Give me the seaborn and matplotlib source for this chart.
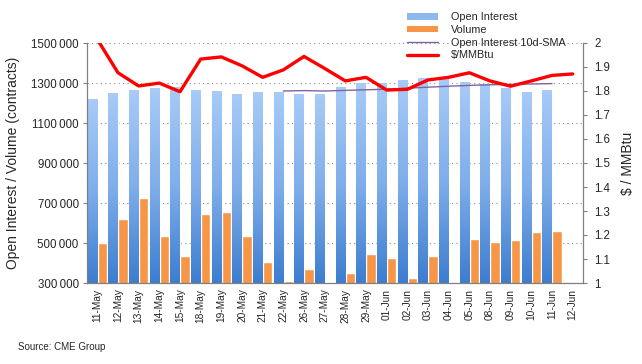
import numpy as np
import pandas as pd
import seaborn as sns
import matplotlib.pyplot as plt
from matplotlib.patches import Patch
from matplotlib.lines import Line2D
from matplotlib.colors import LinearSegmentedColormap
from matplotlib.ticker import FixedLocator, FuncFormatter, MultipleLocator

# data
dates = ["11-May", "12-May", "13-May", "14-May", "15-May", "18-May", "19-May",
         "20-May", "21-May", "22-May", "26-May", "27-May", "28-May", "29-May",
         "01-Jun", "02-Jun", "03-Jun", "04-Jun", "05-Jun", "08-Jun", "09-Jun",
         "10-Jun", "11-Jun", "12-Jun"]
open_interest = [1220000, 1250000, 1265000, 1275000, 1278000, 1265000, 1260000,
                 1245000, 1255000, 1255000, 1245000, 1245000, 1282000, 1298000,
                 1300000, 1315000, 1325000, 1320000, 1305000, 1295000, 1275000,
                 1255000, 1265000, np.nan]
volume = [500000, 620000, 725000, 535000, 435000, 645000, 655000,
          535000, 405000, 310000, 370000, 305000, 350000, 445000,
          425000, 325000, 435000, np.nan, 520000, 505000, 515000,
          555000, 560000, np.nan]
oi_sma = [np.nan, np.nan, np.nan, np.nan, np.nan, np.nan, np.nan,
          np.nan, np.nan, 1260000, 1262000, 1260000, 1263000, 1266000,
          1269000, 1274000, 1279000, 1284000, 1288000, 1291000, 1293000,
          1295000, 1297000, np.nan]
price = [2.015, 1.876, 1.821, 1.833, 1.797, 1.933, 1.942,
         1.905, 1.857, 1.888, 1.944, 1.894, 1.842, 1.857,
         1.804, 1.807, 1.846, 1.857, 1.876, 1.842, 1.820,
         1.842, 1.865, 1.871]
left_ticks = [300000, 500000, 700000, 900000, 1100000, 1300000, 1500000]

sns.set_style("white")
plt.rcParams["font.family"] = ["Liberation Sans", "DejaVu Sans"]

fig = plt.figure(figsize=(6.42, 3.64), dpi=100)
ax = fig.add_axes([87 / 642, 1 - 283 / 364, 496 / 642, 240 / 364])

n = len(dates)
idx = np.arange(n)

df = pd.DataFrame({"date": dates, "Open Interest": open_interest, "Volume": volume})
long_df = df.melt(id_vars="date", var_name="series", value_name="contracts")

sns.barplot(data=long_df, x="date", y="contracts", hue="series",
            palette={"Open Interest": "#7FAEEA", "Volume": "#F79646"},
            saturation=1, width=0.97, gap=0.06, legend=False, ax=ax, zorder=2)

# blue gradient on the open interest bars
ymin, ymax = left_ticks[0], left_ticks[-1]
grad = np.linspace(0, 1, 256).reshape(-1, 1)
cmap = LinearSegmentedColormap.from_list("oi", ["#3C7DD0", "#7FAEEA", "#A8CBF8"])
for bar in ax.containers[0]:
    h = bar.get_height()
    if not np.isfinite(h) or h <= 0:
        continue
    x0, w = bar.get_x(), bar.get_width()
    im = ax.imshow(grad, extent=[x0, x0 + w, ymin, min(h, ymax)], origin="lower",
                   cmap=cmap, aspect="auto", zorder=2.1, interpolation="bilinear")
    im.set_clip_path(bar)

# 10 day moving average of open interest
sma_df = pd.DataFrame({"x": idx, "sma": oi_sma}).dropna()
sns.lineplot(data=sma_df, x="x", y="sma", ax=ax, color="#8064A2", lw=1, zorder=3)

ax.set_xlim(-0.5, n - 0.5)
ax.set_ylim(ymin, ymax)
ax.yaxis.set_major_locator(FixedLocator(left_ticks))
ax.yaxis.set_major_formatter(FuncFormatter(lambda v, p: f"{int(v) // 1000}\u2009{int(v) % 1000:03d}"))
ax.xaxis.set_major_locator(FixedLocator(idx))
ax.set_xticklabels(dates, rotation=90, fontsize=7.3)
ax.xaxis.set_minor_locator(FixedLocator(np.arange(n + 1) - 0.5))
ax.tick_params(axis="x", which="major", length=0, pad=4)
ax.tick_params(axis="x", which="minor", length=4, color="#808080", width=0.8)
ax.tick_params(axis="y", length=3, color="#808080", width=0.8, labelsize=8.3, pad=3, left=True)
ax.set_xlabel("")
ax.set_ylabel("Open Interest / Volume (contracts)", fontsize=10, labelpad=8)
ax.yaxis.grid(True, linestyle=(0, (1, 3)), color="#8C8C8C", lw=0.8)
ax.set_axisbelow(True)
for side in ["left", "bottom"]:
    ax.spines[side].set_color("#808080")
    ax.spines[side].set_linewidth(0.9)
ax.spines["top"].set_visible(False)
ax.spines["right"].set_visible(False)

# price on the secondary axis
ax2 = ax.twinx()
sns.lineplot(x=idx, y=price, ax=ax2, color="#FF0000", lw=2.4, zorder=4)
ax2.set_ylim(1, 2)
ax2.yaxis.set_major_locator(MultipleLocator(0.1))
ax2.yaxis.set_major_formatter(FuncFormatter(lambda v, p: f"{v:.1f}".rstrip("0").rstrip(".")))
ax2.tick_params(axis="y", length=3, color="#808080", width=0.8, labelsize=8.3, pad=5, right=True)
ax2.set_ylabel("$ / MMBtu", fontsize=10, labelpad=8)
ax2.spines["right"].set_color("#808080")
ax2.spines["right"].set_linewidth(0.9)
for side in ["left", "top", "bottom"]:
    ax2.spines[side].set_visible(False)
ax2.set_xlim(-0.5, n - 0.5)

handles = [
    Patch(facecolor="#8DB9EE", edgecolor="none", label="Open Interest"),
    Patch(facecolor="#F79646", edgecolor="none", label="Volume"),
    Line2D([], [], color="#8064A2", lw=1, label="Open Interest 10d-SMA"),
    Line2D([], [], color="#FF0000", lw=2.4, label="$/MMBtu"),
]
fig.legend(handles=handles, loc="upper left", bbox_to_anchor=(403 / 642, 1 - 8 / 364),
           frameon=False, fontsize=7.8, handlelength=2.8, handleheight=0.5,
           handletextpad=1.2, labelspacing=0.25, borderaxespad=0)

fig.text(18 / 642, 1 - 347 / 364, "Source: CME Group", fontsize=7, va="center", ha="left")

fig.savefig("out.png", dpi=100)
